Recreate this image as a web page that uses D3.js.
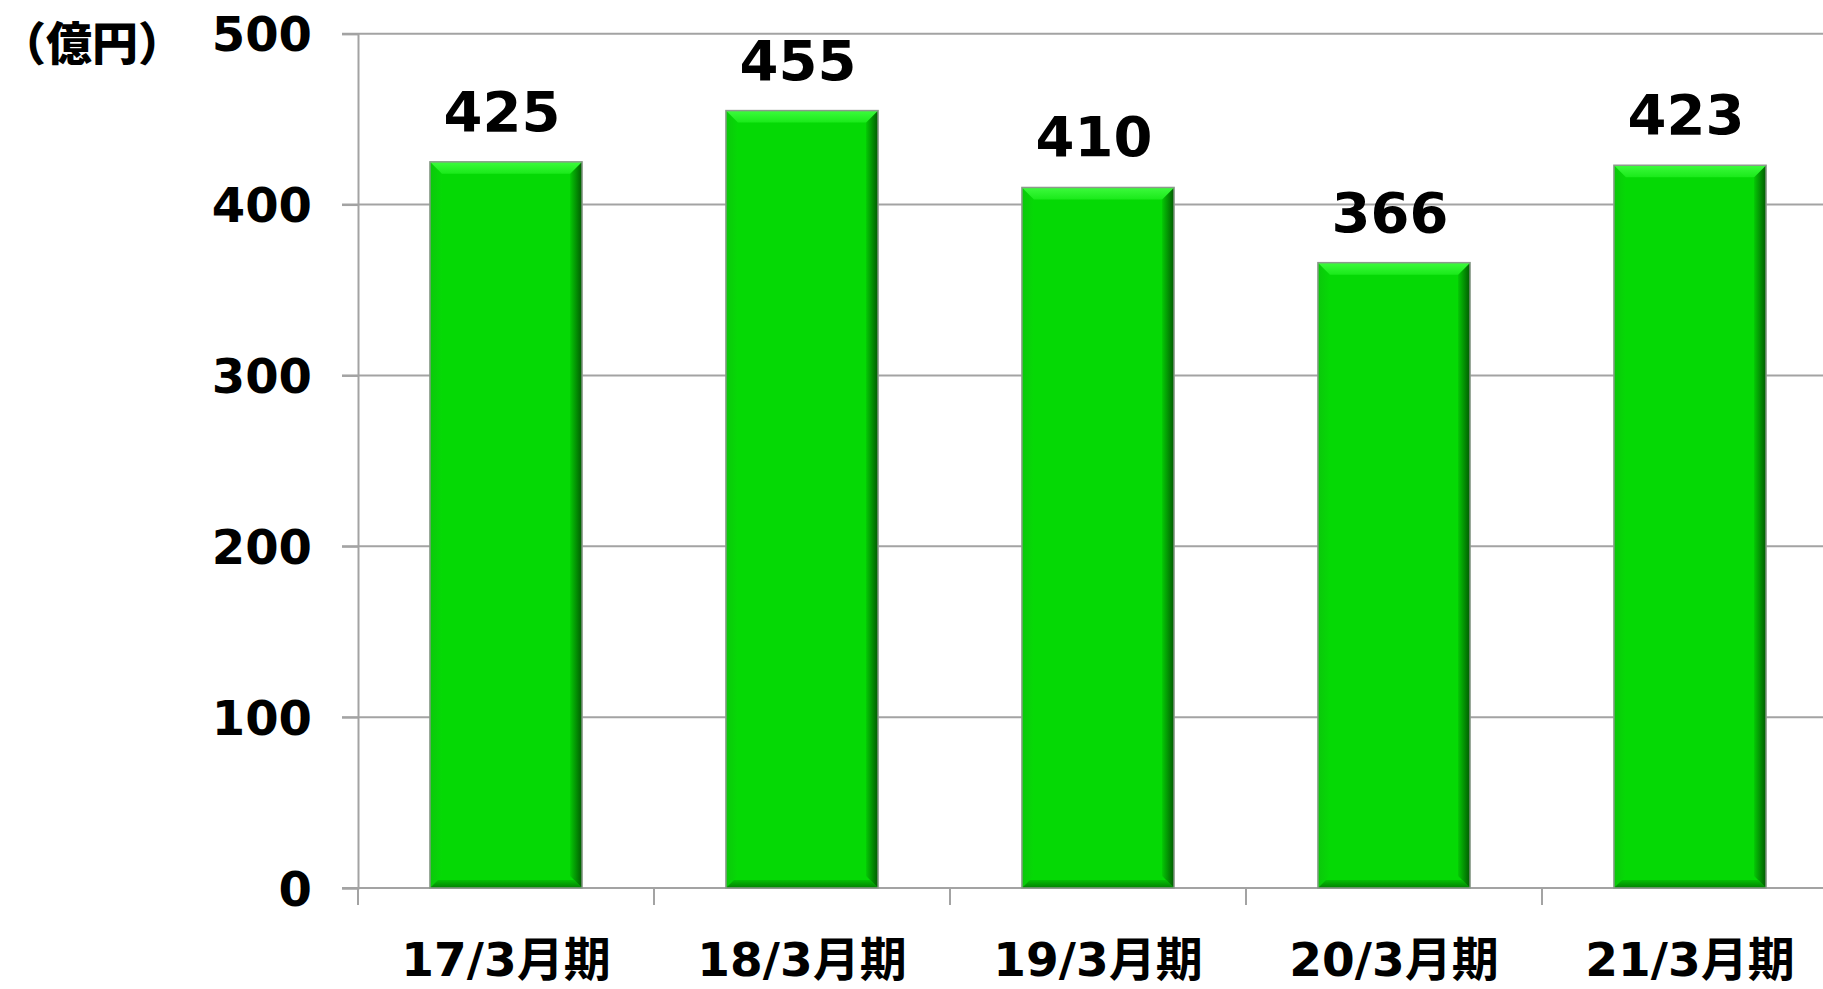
<!DOCTYPE html>
<html>
<head>
<meta charset="utf-8">
<script src="https://cdn.jsdelivr.net/npm/d3@7"></script>
<style>
  body { margin: 0; background: #fff; }
  svg { display: block; }
  text { font-family: "DejaVu Sans", "Noto Sans CJK JP", sans-serif; font-weight: bold; fill: #000; }
</style>
</head>
<body>
<svg></svg>
<script>
const width = 1823, height = 989;

const categories = ["17/3月期", "18/3月期", "19/3月期", "20/3月期", "21/3月期"];
const values = [425, 455, 410, 366, 423];
const yTicks = [0, 100, 200, 300, 400, 500];
const unitLabel = "（億円）";

const left = 358, zeroY = 888, topY = 33.7, step = 296;

const svg = d3.select('svg')
    .attr('width', width)
    .attr('height', height);

const x = d3.scaleBand()
    .domain(categories)
    .range([left, left + step * categories.length])
    .paddingInner(0.486)
    .paddingOuter(0.243);

const y = d3.scaleLinear()
    .domain([0, 500])
    .range([zeroY, topY]);

// gradients for the bevelled bars
const defs = svg.append('defs');
function grad(id, x1, y1, x2, y2, stops) {
    const g = defs.append('linearGradient').attr('id', id)
        .attr('x1', x1).attr('y1', y1).attr('x2', x2).attr('y2', y2);
    stops.forEach(s => g.append('stop').attr('offset', s[0]).attr('stop-color', s[1]));
}
grad('bevTop', 0, 0, 0, 1, [[0, '#3dfb3d'], [1, '#1aea1a']]);
grad('bevRight', 0, 0, 1, 0, [[0, '#05c805'], [1, '#015a01']]);
grad('bevBottom', 0, 0, 0, 1, [[0, '#05c005'], [1, '#038003']]);
grad('bevLeft', 0, 0, 1, 0, [[0, '#0bc80b'], [1, '#06d906']]);

// gridlines
svg.append('g')
    .selectAll('line')
    .data(yTicks.filter(d => d > 0))
    .enter().append('line')
    .attr('x1', left - 16).attr('x2', width)
    .attr('y1', d => y(d)).attr('y2', d => y(d))
    .style('stroke', '#a3a3a3').style('stroke-width', 2);

// y axis
const yAxis = svg.append('g')
    .attr('transform', `translate(${left},0)`)
    .call(d3.axisLeft(y).tickValues(yTicks).tickSize(16).tickPadding(30));
yAxis.select('.domain').style('stroke', '#a3a3a3').style('stroke-width', 2);
yAxis.selectAll('.tick line').style('stroke', '#a3a3a3').style('stroke-width', 2);
yAxis.selectAll('.tick text')
    .style('font-size', '48px')
    .attr('dy', '0.36em');

// x axis line + ticks at category boundaries
svg.append('line')
    .attr('x1', left - 16).attr('x2', width)
    .attr('y1', zeroY).attr('y2', zeroY)
    .style('stroke', '#a3a3a3').style('stroke-width', 2);
svg.append('g')
    .selectAll('line')
    .data(categories)
    .enter().append('line')
    .attr('x1', d => x(d) - x.step() * x.paddingOuter())
    .attr('x2', d => x(d) - x.step() * x.paddingOuter())
    .attr('y1', zeroY).attr('y2', zeroY + 17)
    .style('stroke', '#a3a3a3').style('stroke-width', 2);

svg.append('g')
    .selectAll('text')
    .data(categories)
    .enter().append('text')
    .attr('x', d => x(d) + x.bandwidth() / 2)
    .attr('y', 976)
    .attr('text-anchor', 'middle')
    .style('font-size', '47px')
    .text(d => d);

// bars
const data = categories.map((c, i) => ({cat: c, v: values[i]}));
const bev = 12;
const bars = svg.append('g').selectAll('.bar')
    .data(data)
    .enter().append('g')
    .attr('class', 'bar');

bars.append('rect')
    .attr('x', d => x(d.cat))
    .attr('y', d => y(d.v))
    .attr('width', x.bandwidth())
    .attr('height', d => zeroY - y(d.v))
    .style('fill', '#05d905');

function poly(d, side) {
    const x0 = x(d.cat), x1 = x0 + x.bandwidth(), y0 = y(d.v), y1 = zeroY;
    const b = side === 'bottom' ? 8 : bev;
    const pts = {
        top: [[x0, y0], [x1, y0], [x1 - b, y0 + b], [x0 + b, y0 + b]],
        right: [[x1, y0], [x1, y1], [x1 - b, y1 - b], [x1 - b, y0 + b]],
        bottom: [[x0, y1], [x1, y1], [x1 - b, y1 - b], [x0 + b, y1 - b]],
        left: [[x0, y0], [x0 + b, y0 + b], [x0 + b, y1 - b], [x0, y1]]
    }[side];
    return pts.map(p => p.join(',')).join(' ');
}
[['left', 'url(#bevLeft)'], ['bottom', 'url(#bevBottom)'], ['right', 'url(#bevRight)'], ['top', 'url(#bevTop)']]
    .forEach(([side, fill]) => {
        bars.append('polygon')
            .attr('points', d => poly(d, side))
            .style('fill', fill);
    });

bars.append('rect')
    .attr('x', d => x(d.cat))
    .attr('y', d => y(d.v))
    .attr('width', x.bandwidth())
    .attr('height', d => zeroY - y(d.v))
    .style('fill', 'none')
    .style('stroke', '#8c9a8c')
    .style('stroke-width', 1.5);

// value labels
svg.append('g')
    .selectAll('text')
    .data(data)
    .enter().append('text')
    .attr('x', d => x(d.cat) + x.bandwidth() / 2 - 4)
    .attr('y', d => y(d.v) - 31)
    .attr('text-anchor', 'middle')
    .style('font-size', '56px')
    .text(d => d.v);

// unit label
svg.append('text')
    .attr('x', 0)
    .attr('y', 60)
    .style('font-size', '46px')
    .style('font-family', '"Noto Sans CJK JP", sans-serif')
    .style('font-weight', 900)
    .text(unitLabel);
</script>
</body>
</html>
